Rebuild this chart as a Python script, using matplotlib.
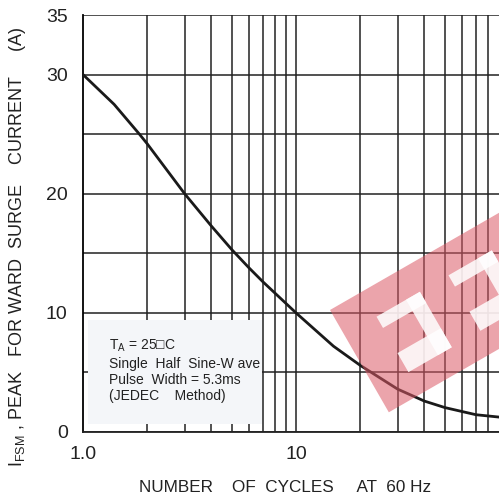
import matplotlib
matplotlib.use("Agg")
import matplotlib.pyplot as plt
from matplotlib.patches import Polygon, Rectangle
import numpy as np

# ---- data ----
cycles = [1, 1.4, 1.84, 2, 3, 4, 5, 6, 7, 10, 15, 20, 30, 40, 50, 70, 90]
ifsm = [30, 27.5, 25.0, 24.2, 20.0, 17.3, 15.3, 13.8, 12.6, 10.0, 7.2, 5.6, 3.6, 2.6, 2.05, 1.45, 1.25]
y_ticks = [0, 10, 20, 30, 35]
y_tick_labels = ["0", "10", "20", "30", "35"]
x_ticks = [1, 10]
x_tick_labels = ["1.0", "10"]
y_grid = [0, 5, 10, 15, 20, 25, 30, 35]
box_text = "T$_\\mathregular{A}$ = 25\u25a1C\nSingle  Half  Sine-W ave\nPulse  Width = 5.3ms\n(JEDEC    Method)"
xlabel = "NUMBER    OF  CYCLES     AT  60 Hz"
ylabel = "I$_\\mathregular{FSM}$ , PEAK   FOR WARD  SURGE    CURRENT     (A)"

plt.rcParams['font.family'] = ["Liberation Sans", "DejaVu Sans"]

fig = plt.figure(figsize=(4.99, 4.99), dpi=100)
ax = fig.add_axes([83/499, 1-432/499, 1-83/499, (432-15)/499])
ax.set_xscale("log")
xmax = 10 ** (416/213)
ax.set_xlim(1, xmax)
ax.set_ylim(0, 35)

# grid
for v in y_grid:
    ax.axhline(v, color="#222222", lw=1.1, zorder=1)
decs = [d * m for d in (1, 10) for m in range(1, 10)]
for v in decs:
    if 1 < v < xmax:
        ax.axvline(v, color="#222222", lw=1.1, zorder=1)

for s in ["right", "top"]:
    ax.spines[s].set_visible(False)
ax.spines["left"].set_linewidth(1.3)
ax.spines["bottom"].set_linewidth(1.3)
ax.spines["bottom"].set_color("#222222")

ax.set_yticks(y_ticks)
ax.set_yticklabels(y_tick_labels, fontsize=14)
ax.set_xticks(x_ticks)
ax.set_xticklabels(x_tick_labels, fontsize=14)
ax.xaxis.set_minor_locator(matplotlib.ticker.NullLocator())
ax.tick_params(length=0, colors="#222222")
ax.tick_params(axis="y", pad=11)
ax.tick_params(axis="x", pad=10)

# curve
ax.plot(cycles, ifsm, color="#1a1a1a", lw=2.0, zorder=4,
        solid_capstyle="round", solid_joinstyle="round")

# watermark (band + cut-outs) in pixel space
ang = np.deg2rad(29.9)
U = np.array([np.cos(ang), -np.sin(ang)])
V = np.array([np.sin(ang), np.cos(ang)])
O = np.array([330.0, 310.0])

def uv(pts):
    out = []
    for u, v in pts:
        p = O + u * U + v * V
        out.append((p[0], 499 - p[1]))
    return out

ax.add_patch(Polygon(uv([(0, 0), (300, 0), (300, 118), (0, 118)]), closed=True,
                     transform=None, facecolor=(0.86, 0.35, 0.40), alpha=0.55,
                     edgecolor="none", zorder=5))
for du in (0, 83):
    for r in [(37, 29, 87, 42), (71, 29, 87, 93), (37, 71, 87, 93)]:
        u0, v0, u1, v1 = r
        ax.add_patch(Polygon(uv([(u0 + du, v0), (u1 + du, v0), (u1 + du, v1), (u0 + du, v1)]),
                             closed=True, transform=None, facecolor="white",
                             alpha=0.85, edgecolor="none", zorder=6))

# annotation box
ax.add_patch(Rectangle((88/499, 1-424/499), (262-88)/499, (424-320)/499,
                       transform=fig.transFigure, facecolor="#f4f6f9",
                       edgecolor="none", zorder=3))
fig.text(109/499, 1-338/499, box_text, fontsize=10, va="top", ha="left",
         linespacing=1.2, color="#222222", zorder=7)

fig.text(285/499, 1-488/499, xlabel, fontsize=12.3, ha="center", va="center", color="#222222")
fig.text(18/499, 1-247/499, ylabel, fontsize=13, ha="center", va="center",
         rotation=90, color="#222222")

fig.savefig("out.png", dpi=100)
